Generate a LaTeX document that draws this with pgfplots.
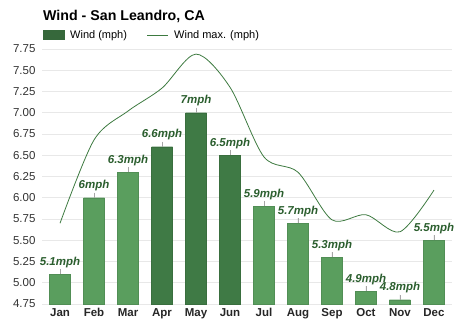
\documentclass[border=0pt]{standalone}
\usepackage{pgfplots}
\pgfplotsset{compat=1.18}
\usepackage{fontspec}
\setmainfont{Liberation Sans}
\definecolor{lightbar}{HTML}{5A9E5E}
\definecolor{darkbar}{HTML}{3F7A45}
\definecolor{labelgreen}{HTML}{2B5E2E}
\definecolor{linegreen}{HTML}{3D7A40}
\definecolor{gridgrey}{HTML}{E8E8E8}
\begin{document}
\begin{tikzpicture}[x=1pt,y=1pt]
\useasboundingbox (-42,-27) rectangle (432,304);
\begin{axis}[
  at={(0,0)}, anchor=south west,
  scale only axis, width=410pt, height=255pt,
  xmin=-0.53, xmax=11.53, ymin=4.75, ymax=7.75,
  ytick={4.75,5,5.25,5.5,5.75,6,6.25,6.5,6.75,7,7.25,7.5,7.75},
  yticklabel style={/pgf/number format/.cd, fixed, fixed zerofill, precision=2, /tikz/.cd, font=\fontsize{11.5}{13}\selectfont, text=black!80, xshift=-3pt},
  xtick={0,...,11},
  xticklabels={Jan,Feb,Mar,Apr,May,Jun,Jul,Aug,Sep,Oct,Nov,Dec},
  xticklabel style={font=\bfseries\fontsize{11.5}{13}\selectfont, text=black!85, yshift=-1pt},
  /pgf/number format/assume math mode=true,
  ymajorgrids, grid style={gridgrey, line width=0.6pt},
  axis line style={draw=none}, tick style={draw=none},
  clip=false,
  nodes near coords={\pgfmathprintnumber{\pgfplotspointmeta}mph},
  every node near coord/.append style={font=\bfseries\itshape\fontsize{11.5}{13}\selectfont, text=labelgreen, yshift=3pt},
]
\addplot[ybar, bar width=21pt, bar shift=0pt, fill=lightbar, draw=lightbar!90!black, line width=0.3pt,
  error bars/.cd, y dir=plus, y fixed=0.06, error mark=none, error bar style={gray!70, line width=0.5pt}]
  coordinates {(0,5.1) (1,6.0) (2,6.3) (6,5.9) (7,5.7) (8,5.3) (9,4.9) (10,4.8) (11,5.5)};
\addplot[ybar, bar width=21pt, bar shift=0pt, fill=darkbar, draw=darkbar!90!black, line width=0.3pt,
  error bars/.cd, y dir=plus, y fixed=0.06, error mark=none, error bar style={gray!70, line width=0.5pt}]
  coordinates {(3,6.6) (4,7.0) (5,6.5)};
\addplot[smooth, linegreen, line width=0.8pt, nodes near coords={}, mark=none]
  coordinates {(0,5.70) (1,6.68) (2,7.02) (3,7.29) (4,7.69) (5,7.30) (6,6.48) (7,6.30) (8,5.74) (9,5.80) (10,5.60) (11,6.09)};
\end{axis}
\node[anchor=base west, font=\bfseries\fontsize{14.2}{16}\selectfont, inner sep=0pt] at (1,283) {Wind - San Leandro, CA};
\fill[darkbar!85!black] (1,264) rectangle (23,274);
\node[anchor=base west, font=\fontsize{11}{13}\selectfont, inner sep=0pt] at (28,265) {Wind (mph)};
\draw[linegreen, line width=0.8pt] (105,269) -- (126,269);
\node[anchor=base west, font=\fontsize{11}{13}\selectfont, inner sep=0pt] at (132,265) {Wind max. (mph)};
\end{tikzpicture}
\end{document}
